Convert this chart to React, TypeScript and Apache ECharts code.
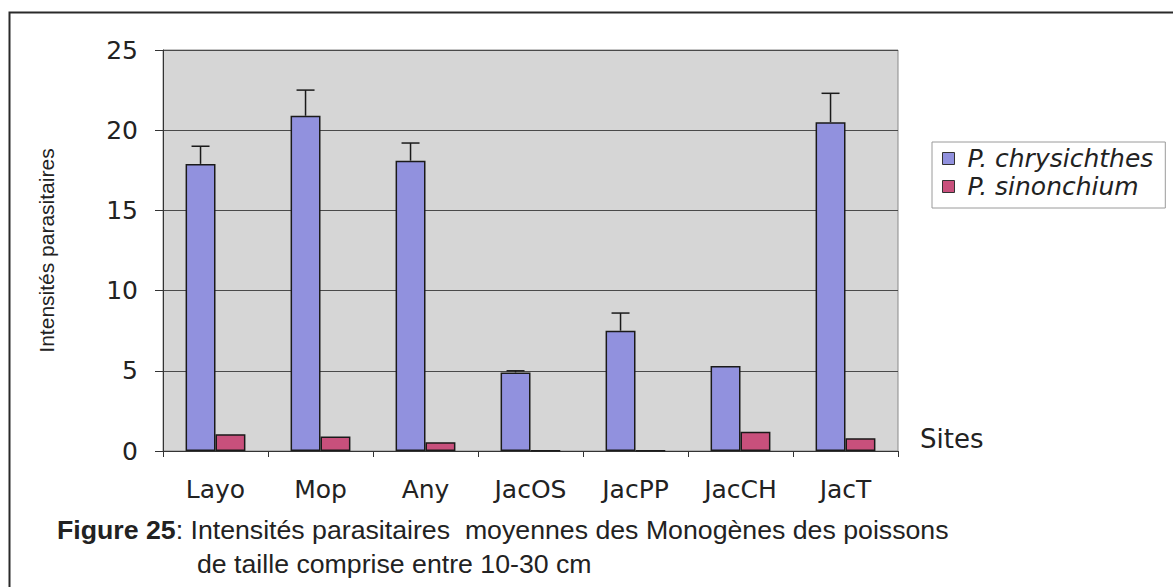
import React, { useEffect, useRef } from "react";
import * as echarts from "echarts";

const sites = ["Layo", "Mop", "Any", "JacOS", "JacPP", "JacCH", "JacT"];
const chrysichthes = [17.9, 20.9, 18.1, 4.9, 7.5, 5.3, 20.5];
const chrysichthesErr = [1.1, 1.6, 1.1, 0.1, 1.1, 0, 1.8];
const sinonchium = [1.05, 0.9, 0.55, 0.02, 0.02, 1.2, 0.8];
const yTicks = { min: 0, max: 25, interval: 5 };
const seriesNames = ["P. chrysichthes", "P. sinonchium"];

const BAR_GAP = 0.43;

export default function App() {
  const ref = useRef<HTMLDivElement>(null);
  useEffect(() => {
    document.body.style.margin = "0";
    const chart = echarts.init(ref.current!, undefined, { renderer: "svg" });
    const font = "'DejaVu Sans', sans-serif";
    const capFont = "'Liberation Sans', Arial, sans-serif";
    const errData = chrysichthes.map((v, i) => [i, v, chrysichthesErr[i]]);
    chart.setOption({
      animation: false,
      backgroundColor: "#ffffff",
      textStyle: { fontFamily: font },
      grid: {
        left: 163,
        right: 275,
        top: 50,
        bottom: 136,
        show: true,
        backgroundColor: "#d6d6d6",
        borderColor: "#8a8a8a",
        borderWidth: 1,
      },
      legend: {
        data: seriesNames,
        orient: "vertical",
        left: 932,
        top: 142,
        icon: "rect",
        itemWidth: 12,
        itemHeight: 12,
        itemGap: 3,
        padding: [4, 12, 9, 10],
        borderColor: "#9a9a9a",
        borderWidth: 1,
        backgroundColor: "#ffffff",
        itemStyle: { borderColor: "#333", borderWidth: 1 },
        textStyle: {
          fontFamily: font,
          fontStyle: "italic",
          fontSize: 25,
          color: "#222",
          padding: [0, 0, 0, 8],
        },
      },
      xAxis: {
        type: "category",
        data: sites,
        boundaryGap: true,
        axisLine: { show: true, lineStyle: { color: "#333", width: 1 } },
        axisTick: { show: true, length: 6, lineStyle: { color: "#333" } },
        axisLabel: {
          fontFamily: font,
          fontSize: 25,
          color: "#222",
          margin: 26,
          interval: 0,
        },
      },
      yAxis: {
        type: "value",
        min: yTicks.min,
        max: yTicks.max,
        interval: yTicks.interval,
        name: "Intensités parasitaires",
        nameLocation: "middle",
        nameGap: 106,
        nameTextStyle: { fontFamily: capFont, fontSize: 21, color: "#222" },
        axisLine: { show: true, lineStyle: { color: "#333", width: 1 } },
        axisTick: { show: true, length: 8, inside: false, lineStyle: { color: "#333" } },
        axisLabel: { fontFamily: font, fontSize: 25, color: "#222", margin: 25 },
        splitLine: { show: true, lineStyle: { color: "#4a4a4a", width: 1 } },
      },
      series: [
        {
          name: seriesNames[0],
          type: "bar",
          data: chrysichthes,
          barGap: "0%",
          barCategoryGap: BAR_GAP * 100 + "%",
          itemStyle: { color: "#9191de", borderColor: "#1a1a1a", borderWidth: 1.5 },
        },
        {
          name: seriesNames[1],
          type: "bar",
          data: sinonchium,
          barGap: "0%",
          barCategoryGap: BAR_GAP * 100 + "%",
          itemStyle: { color: "#c8507c", borderColor: "#1a1a1a", borderWidth: 1.5 },
        },
        {
          name: "err",
          type: "custom",
          data: errData,
          z: 5,
          renderItem: (params: any, api: any) => {
            const i = api.value(0);
            const mean = api.value(1);
            const err = api.value(2);
            if (!err) return null;
            const band = api.size([1, 0])[0];
            const bw = (band * (1 - BAR_GAP)) / 2;
            const p0 = api.coord([i, mean]);
            const p1 = api.coord([i, mean + err]);
            const cx = p0[0] - bw / 2;
            const cap = 9;
            const style = { stroke: "#1a1a1a", lineWidth: 1.5 };
            return {
              type: "group",
              children: [
                { type: "line", shape: { x1: cx, y1: p0[1], x2: cx, y2: p1[1] }, style },
                { type: "line", shape: { x1: cx - cap, y1: p1[1], x2: cx + cap, y2: p1[1] }, style },
              ],
            };
          },
        },
      ],
      graphic: [
        {
          type: "rect",
          left: 7,
          top: 10,
          shape: { x: 0, y: 0, width: 1200, height: 620 },
          style: { fill: "none", stroke: "#2a2a2a", lineWidth: 2 },
          silent: true,
          z: -10,
        },
        {
          type: "text",
          left: 920,
          top: 426,
          style: { text: "Sites", fontFamily: font, fontSize: 26, fill: "#222" },
        },
        {
          type: "text",
          left: 57,
          top: 516,
          style: {
            text: "{b|Figure 25}: Intensités parasitaires  moyennes des Monogènes des poissons",
            fontFamily: capFont,
            fontSize: 26.7,
            fill: "#222",
            rich: {
              b: {
                fontFamily: capFont,
                fontWeight: "bold",
                fontSize: 26.7,
                fill: "#222",
              },
            },
          },
        },
        {
          type: "text",
          left: 197,
          top: 550,
          style: {
            text: "de taille comprise entre 10-30 cm",
            fontFamily: capFont,
            fontSize: 26.7,
            fill: "#222",
          },
        },
      ],
    });
    return () => chart.dispose();
  }, []);
  return <div ref={ref} style={{ width: 1173, height: 587 }} />;
}
